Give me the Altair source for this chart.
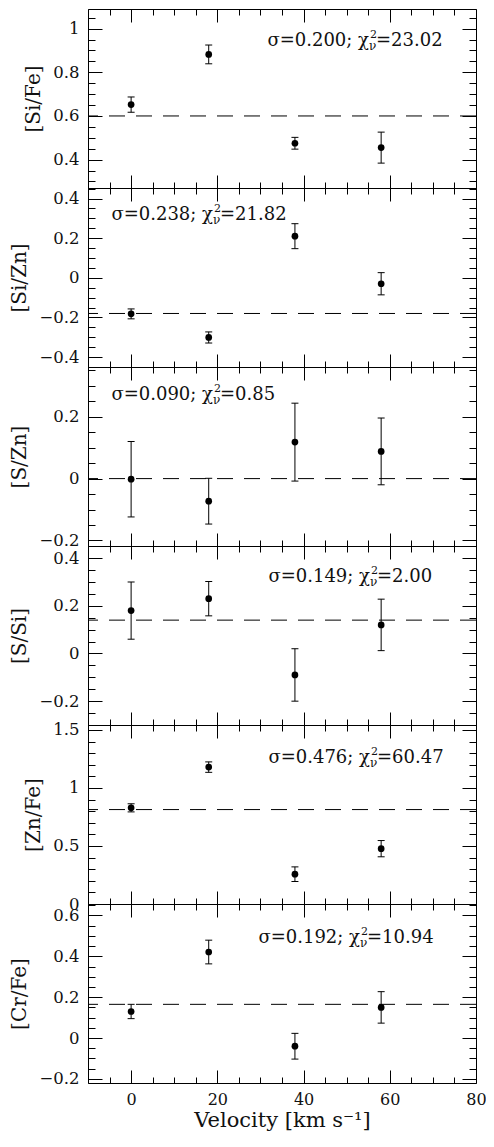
import math
import altair as alt
import pandas as pd

# ---------------- data ----------------
velocity = [0, 18, 38, 58]

ratio_labels = ["[Si/Fe]", "[Si/Zn]", "[S/Zn]", "[S/Si]", "[Zn/Fe]", "[Cr/Fe]"]

si_fe = [0.652, 0.882, 0.475, 0.455]
si_fe_err = [0.035, 0.043, 0.027, 0.071]
si_zn = [-0.182, -0.301, 0.210, -0.030]
si_zn_err = [0.025, 0.028, 0.063, 0.056]
s_zn = [-0.002, -0.073, 0.118, 0.088]
s_zn_err = [0.122, 0.074, 0.126, 0.108]
s_si = [0.180, 0.230, -0.090, 0.120]
s_si_err = [0.120, 0.072, 0.110, 0.108]
zn_fe = [0.829, 1.180, 0.257, 0.477]
zn_fe_err = [0.035, 0.045, 0.063, 0.070]
cr_fe = [0.130, 0.421, -0.040, 0.150]
cr_fe_err = [0.035, 0.058, 0.063, 0.077]

series = [si_fe, si_zn, s_zn, s_si, zn_fe, cr_fe]
errors = [si_fe_err, si_zn_err, s_zn_err, s_si_err, zn_fe_err, cr_fe_err]

mean_values = [0.600, -0.180, 0.0, 0.140, 0.814, 0.165]
sigma_text = ["0.200", "0.238", "0.090", "0.149", "0.476", "0.192"]
chi2_text = ["23.02", "21.82", "0.85", "2.00", "60.47", "10.94"]

y_domains = [[0.27, 1.09], [-0.45, 0.453], [-0.218, 0.361],
             [-0.30, 0.451], [0.0, 1.543], [-0.22, 0.656]]
y_major_step = [0.2, 0.2, 0.2, 0.2, 0.5, 0.2]
y_minor_step = [0.05, 0.05, 0.05, 0.05, 0.1, 0.05]

x_domain = [-10, 80]
x_label_values = [0, 20, 40, 60, 80]

# ---------------- layout / style ----------------
W = 388
H = 179
FONT = "DejaVu Serif"
INK = "#111111"
# annotation anchor (end of the chi glyph, centre line), plot-relative px
annot_pos = [(281, 32), (125, 27), (125, 28), (282, 31), (282, 33), (272, 34)]


def tick_list(lo, hi, step):
    k0 = math.ceil(lo / step - 1e-9)
    k1 = math.floor(hi / step + 1e-9)
    return [round(k * step, 6) for k in range(k0, k1 + 1)]


def major_test(step):
    return f"abs(datum.value/{step} - round(datum.value/{step})) < 1e-6"


x_tick_values = tick_list(x_domain[0], x_domain[1], 5)


def panel(i, last):
    vals = series[i]
    errs = errors[i]
    df = pd.DataFrame({
        "v": velocity,
        "val": vals,
        "lo": [a - b for a, b in zip(vals, errs)],
        "hi": [a + b for a, b in zip(vals, errs)],
    })
    xs = alt.Scale(domain=x_domain, nice=False, zero=False)
    ys = alt.Scale(domain=y_domains[i], nice=False, zero=False)
    y_ticks = tick_list(y_domains[i][0], y_domains[i][1], y_minor_step[i])
    y_labels = tick_list(y_domains[i][0], y_domains[i][1], y_major_step[i])
    ysz = {"condition": {"test": major_test(y_major_step[i]), "value": 14}, "value": 7}
    xsz = {"condition": {"test": major_test(20), "value": 13}, "value": 6}
    common = dict(grid=False, domain=False, labels=False, title=None,
                  tickColor="black", tickWidth=1)

    base = alt.Chart(df)

    # inward ticks on bottom and left edges
    ax_x_bottom = alt.Axis(orient="top", offset=-H, values=x_tick_values, tickSize=xsz, **common)
    ax_y_left = alt.Axis(orient="right", offset=-W, values=y_ticks, tickSize=ysz, **common)
    bars = base.mark_rule(color="black", strokeWidth=1).encode(
        x=alt.X("v:Q", scale=xs, axis=ax_x_bottom),
        y=alt.Y("lo:Q", scale=ys, axis=ax_y_left),
        y2="hi:Q",
    )

    # inward ticks on top and right edges
    ax_x_top = alt.Axis(orient="bottom", offset=-H, values=x_tick_values, tickSize=xsz, **common)
    ax_y_right = alt.Axis(orient="left", offset=-W, values=y_ticks, tickSize=ysz, **common)
    cap_lo = base.mark_tick(orient="horizontal", size=7, thickness=1, color="black", opacity=1).encode(
        x=alt.X("v:Q", scale=xs, axis=ax_x_top),
        y=alt.Y("lo:Q", scale=ys, axis=ax_y_right),
    )

    # labels
    ax_y_lab = alt.Axis(orient="left", values=y_labels, ticks=False, tickSize=0, domain=False,
                        grid=False, format="~r", labelPadding=9, labelFontSize=16.5,
                        title=ratio_labels[i], titlePadding=9, titleFontSize=20)
    if last:
        ax_x_lab = alt.Axis(orient="bottom", values=x_label_values, ticks=False, tickSize=0,
                            domain=False, grid=False, format="~r", labelFlush=False,
                            labelPadding=8, labelFontSize=16,
                            title="Velocity [km s⁻¹]", titlePadding=2, titleFontSize=21)
    else:
        ax_x_lab = None
    cap_hi = base.mark_tick(orient="horizontal", size=7, thickness=1, color="black", opacity=1).encode(
        x=alt.X("v:Q", scale=xs, axis=ax_x_lab),
        y=alt.Y("hi:Q", scale=ys, axis=ax_y_lab),
    )

    points = base.mark_circle(size=45, color="black", opacity=1).encode(
        x=alt.X("v:Q", scale=xs, axis=None),
        y=alt.Y("val:Q", scale=ys, axis=None),
    )

    mean_df = pd.DataFrame({"m": [mean_values[i]]})
    mean_line = alt.Chart(mean_df).mark_rule(color="black", strokeWidth=1, strokeDash=[16, 11]).encode(
        y=alt.Y("m:Q", scale=ys, axis=None),
    )

    xa, ya = annot_pos[i]
    tdf = pd.DataFrame({"a": [f"σ={sigma_text[i]}; χ"], "b": [f"={chi2_text[i]}"]})
    tb = alt.Chart(tdf)
    t1 = tb.mark_text(align="right", baseline="middle", font=FONT, fontSize=18, color=INK).encode(
        x=alt.value(xa), y=alt.value(ya), text="a:N")
    t2 = tb.mark_text(align="left", baseline="middle", font=FONT, fontSize=11, color=INK, dx=1, dy=-6).encode(
        x=alt.value(xa), y=alt.value(ya), text=alt.value("2"))
    t3 = tb.mark_text(align="left", baseline="middle", font=FONT, fontSize=12, color=INK, dx=0, dy=5).encode(
        x=alt.value(xa), y=alt.value(ya), text=alt.value("ν"))
    t4 = tb.mark_text(align="left", baseline="middle", font=FONT, fontSize=18, color=INK, dx=7).encode(
        x=alt.value(xa), y=alt.value(ya), text="b:N")

    return alt.layer(bars, cap_lo, cap_hi, points, mean_line, t1, t2, t3, t4).resolve_axis(
        x="independent", y="independent"
    ).properties(width=W, height=H)


panels = [panel(i, i == 5) for i in range(6)]

# fixed canvas (autosize none: the svg is width + left/right padding by top/bottom padding)
chart = alt.vconcat(*panels, spacing=0, bounds="flush").properties(
    autosize=alt.AutoSizeParams(type="none"),
    padding={"left": 80, "top": 1, "right": 10, "bottom": 1125},
).configure_view(
    stroke="black", strokeWidth=1
).configure_axis(
    labelFont=FONT, titleFont=FONT, labelFontSize=16, titleFontSize=20,
    labelColor=INK, titleColor=INK, titleFontWeight="normal",
)

chart.save("out.html", embed_options={"renderer": "svg", "actions": False})
